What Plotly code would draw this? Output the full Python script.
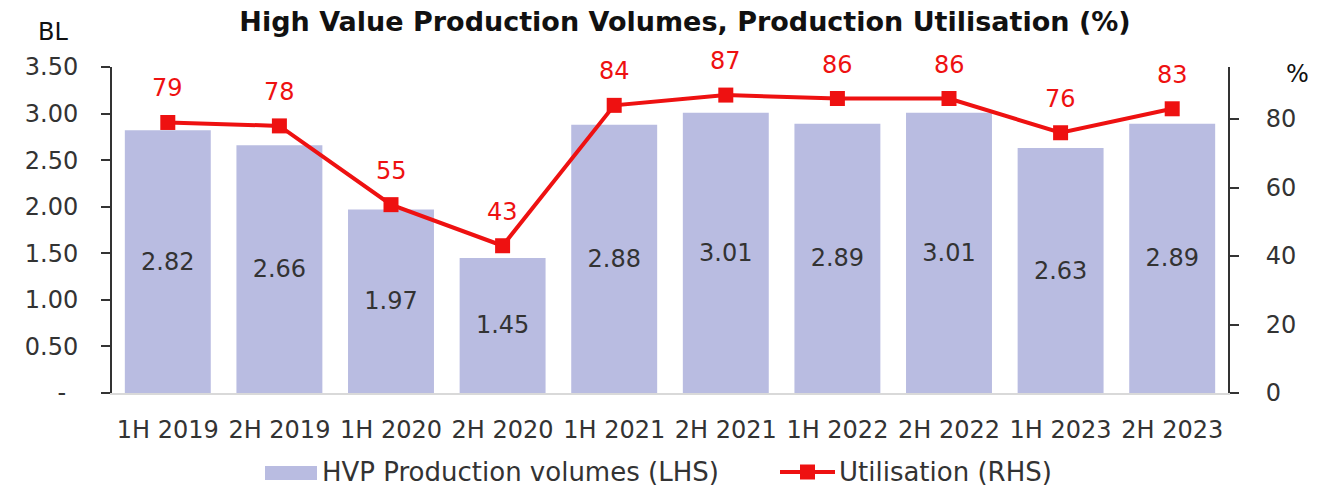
import plotly.graph_objects as go

periods = ["1H 2019", "2H 2019", "1H 2020", "2H 2020", "1H 2021",
           "2H 2021", "1H 2022", "2H 2022", "1H 2023", "2H 2023"]
hvp_volumes = [2.82, 2.66, 1.97, 1.45, 2.88, 3.01, 2.89, 3.01, 2.63, 2.89]
utilisation = [79, 78, 55, 43, 84, 87, 86, 86, 76, 83]

left_ticks = [0, 0.5, 1.0, 1.5, 2.0, 2.5, 3.0, 3.5]
left_tick_text = ["-\u2002", "0.50", "1.00", "1.50", "2.00", "2.50", "3.00", "3.50"]
right_ticks = [0, 20, 40, 60, 80]

FONT = "'DejaVu Sans', sans-serif"
TEXT = "#333333"
BAR = "#B9BCE1"
RED = "#EE1111"

W, H = 1334, 486
ML, MR, MT, MB = 112, 106, 67, 93
PW, PH = W - ML - MR, H - MT - MB


def px(x):
    """Horizontal pixel position -> paper fraction."""
    return (x - ML) / PW


def py(y):
    """Vertical pixel position (from top) -> paper fraction."""
    return (H - MB - y) / PH


fig = go.Figure()

fig.add_trace(go.Bar(
    x=periods, y=hvp_volumes, name="HVP Production volumes (LHS)",
    marker=dict(color=BAR, line=dict(width=0)),
    text=[f"{v:.2f}" for v in hvp_volumes], textposition="inside",
    insidetextanchor="middle",
    textfont=dict(size=24, color=TEXT, family=FONT),
    yaxis="y",
))

fig.add_trace(go.Scatter(
    x=periods, y=utilisation, name="Utilisation (RHS)", mode="lines+markers",
    line=dict(color=RED, width=4),
    marker=dict(symbol="square", size=15, color=RED),
    yaxis="y2",
))

# value labels above the utilisation points
for p, u in zip(periods, utilisation):
    fig.add_annotation(x=p, y=u, yref="y2", text=str(u), showarrow=False,
                       yanchor="middle", yshift=34,
                       font=dict(size=24, color=RED, family=FONT))

# axis unit captions
fig.add_annotation(x=px(53), y=py(32), xref="paper", yref="paper", text="BL",
                   showarrow=False, xanchor="center", yanchor="middle",
                   font=dict(size=24, color="#111111", family=FONT))
fig.add_annotation(x=px(1297), y=py(74), xref="paper", yref="paper", text="%",
                   showarrow=False, xanchor="center", yanchor="middle",
                   font=dict(size=24, color="#111111", family=FONT))

# legend drawn below the axis
LEG_FONT = dict(size=26, color=TEXT, family=FONT)
fig.add_shape(type="rect", xref="paper", yref="paper",
              x0=px(265), x1=px(317), y0=py(480), y1=py(466),
              fillcolor=BAR, line=dict(width=0))
fig.add_annotation(x=px(320), y=py(472), xref="paper", yref="paper",
                   text="HVP Production volumes (LHS)", showarrow=False,
                   xanchor="left", yanchor="middle", font=LEG_FONT)
fig.add_shape(type="line", xref="paper", yref="paper",
              x0=px(780), x1=px(835), y0=py(472), y1=py(472),
              line=dict(color=RED, width=4))
fig.add_shape(type="rect", xref="paper", yref="paper",
              x0=px(800), x1=px(815), y0=py(479.5), y1=py(464.5),
              fillcolor=RED, line=dict(width=0))
fig.add_annotation(x=px(837), y=py(472), xref="paper", yref="paper",
                   text="Utilisation (RHS)", showarrow=False,
                   xanchor="left", yanchor="middle", font=LEG_FONT)

fig.update_layout(
    width=W, height=H,
    margin=dict(l=ML, r=MR, t=MT, b=MB, autoexpand=False),
    paper_bgcolor="white", plot_bgcolor="white",
    font=dict(family=FONT, size=24, color=TEXT),
    bargap=0.23,
    showlegend=False,
    title=dict(text="<b>High Value Production Volumes, Production Utilisation (%)</b>",
               x=(685 / W), xanchor="center", xref="container",
               y=1 - 22 / H, yanchor="middle", yref="container",
               font=dict(size=27, color="#111111", family=FONT)),
    xaxis=dict(range=[-0.5, len(periods) - 0.5], showgrid=False, showline=True,
               linecolor="#d9d9d9", linewidth=2,
               ticks="", ticklabelstandoff=14,
               tickfont=dict(size=24, color=TEXT, family=FONT)),
    yaxis=dict(range=[0, 3.5], tickvals=left_ticks, ticktext=left_tick_text,
               showgrid=False, zeroline=False, showline=True, linecolor="#333333",
               linewidth=2, ticks="outside", ticklen=9, tickcolor="#333333",
               tickwidth=2, ticklabelstandoff=18,
               tickfont=dict(size=24, color=TEXT, family=FONT)),
    yaxis2=dict(range=[0, 95.2], tickvals=right_ticks, overlaying="y", side="right",
                showgrid=False, zeroline=False, showline=True, linecolor="#333333",
                linewidth=2, ticks="outside", ticklen=9, tickcolor="#333333",
                tickwidth=2, ticklabelstandoff=22,
                tickfont=dict(size=24, color=TEXT, family=FONT)),
)

fig.write_html("out.html")
